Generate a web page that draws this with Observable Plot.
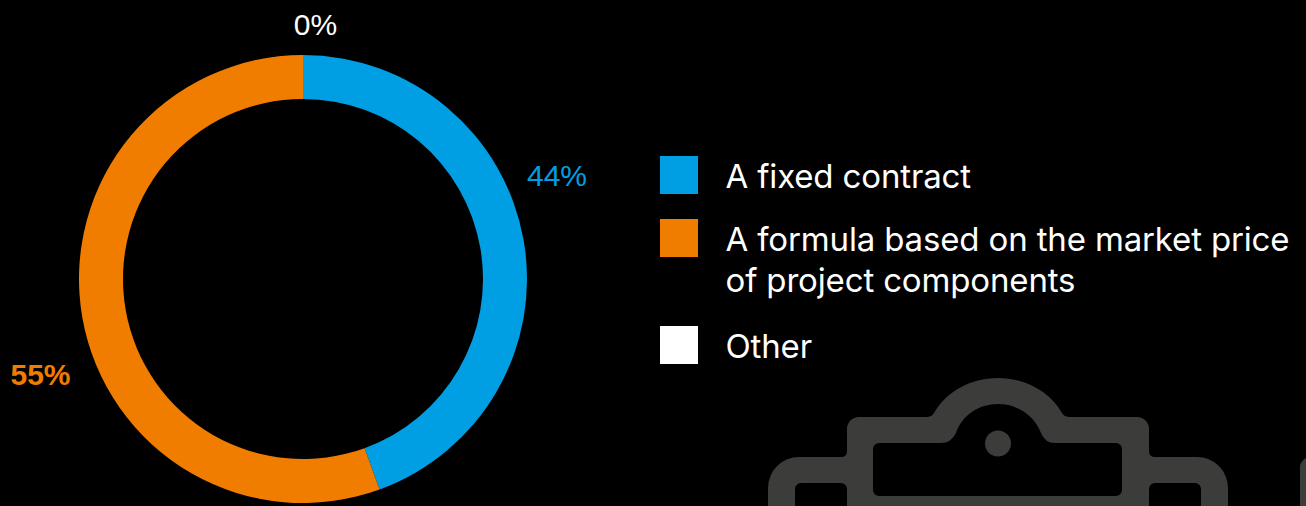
<!DOCTYPE html>
<html>
<head>
<meta charset="utf-8">
<script src="https://cdn.jsdelivr.net/npm/d3@7"></script>
<script src="https://cdn.jsdelivr.net/npm/@observablehq/plot@0.6"></script>
<style>
  html, body { margin: 0; padding: 0; background: #000; overflow: hidden; }
  #chart { position: relative; width: 1306px; height: 506px; }
  #chart svg { position: absolute; left: 0; top: 0; background: transparent; }
  .legend-row { position: absolute; left: 660px; display: flex; font: 33px/41px Inter, sans-serif; font-weight: 400; color: #fff; letter-spacing: -0.15px; }
  .legend-row i { display: block; width: 38px; height: 38px; margin-right: 27.5px; flex: none; }
  .legend-row span { display: block; white-space: pre; }
</style>
</head>
<body>
<div id="chart"></div>
<script>
// Survey answers, in the order they run clockwise from twelve o'clock.
const categories = ["A fixed contract", "A formula based on the market price\nof project components", "Other"];
const shares = [44, 55, 0];
const colors = ["#009fe3", "#f07d00", "#ffffff"];

// Ring geometry and label styling.
const center = [303, 279];
const outerRadius = 224;
const innerRadius = 180;
const labelStyle = [
  {anchor: [556.5, 176], weight: 400, fill: colors[0]},
  {anchor: [40, 375], weight: 700, fill: colors[1]},
  {anchor: [315, 25], weight: 400, fill: colors[2]}
];
const legendTops = [156, 219, 326];

const rows = categories.map((category, i) => ({category, share: shares[i]}));

// Stacked bars measured in degrees, bent into ring segments when rendered.
const ringSegments = Plot.barX(rows, Plot.stackX({
  x: "share",
  fill: "category",
  render(index, scales, values) {
    const arc = d3.arc().innerRadius(innerRadius).outerRadius(outerRadius);
    const toRadians = (deg) => (deg * Math.PI) / 180;
    const g = d3.create("svg:g").attr("transform", `translate(${center})`);
    for (const i of index) {
      g.append("path")
        .attr("fill", values.fill[i])
        .attr("d", arc({startAngle: toRadians(values.x1[i]), endAngle: toRadians(values.x2[i])}));
    }
    return g.node();
  }
}));

// Clipboard glyph sitting behind the lower right of the page.
const clipboard = () => {
  const g = d3.create("svg:g").attr("fill", "#3c3c3a");
  g.append("path").attr("fill-rule", "evenodd").attr("d", [
    "M847 429a12 12 0 0 1 12-12H926q6 0 8-4C946 392 970 378 998 378S1050 392 1062 413q2 4 8 4H1137a12 12 0 0 1 12 12V451q0 6 6 6H1197a31 31 0 0 1 31 31V530H768V488a31 31 0 0 1 31-31H841q6 0 6-6Z",
    "M879 443H941q10 0 15-10C962 415 979 404 998 404S1034 415 1041 433q4 10 14 10H1116a6 6 0 0 1 6 6V490a6 6 0 0 1-6 6H879a6 6 0 0 1-6-6V449a6 6 0 0 1 6-6Z",
    "M801 483H841a6 6 0 0 1 6 6V530H795V489a6 6 0 0 1 6-6Z",
    "M1155 483H1195a6 6 0 0 1 6 6V530H1149V489a6 6 0 0 1 6-6Z"
  ].join(""));
  g.append("circle").attr("cx", 998).attr("cy", 443.5).attr("r", 13);
  g.append("path").attr("d", "M1306 458H1316V530H1300V470a12 12 0 0 1 6-12Z");
  return g.node();
};

const percentLabels = rows.map((row, i) => Plot.text([`${row.share}%`], {
  frameAnchor: "top-left",
  dx: labelStyle[i].anchor[0],
  dy: labelStyle[i].anchor[1],
  text: (d) => d,
  fill: labelStyle[i].fill,
  fontWeight: labelStyle[i].weight,
  fontSize: 30,
  fontFamily: "Liberation Sans, sans-serif",
  textAnchor: "middle",
  lineAnchor: "middle"
}));

const plot = Plot.plot({
  width: 1306,
  height: 506,
  margin: 0,
  style: {background: "transparent", overflow: "visible"},
  x: {domain: [0, d3.sum(shares)], range: [0, 360], axis: null},
  color: {domain: categories, range: colors},
  marks: [clipboard, ringSegments, ...percentLabels]
});

const chart = document.getElementById("chart");
chart.append(plot);

categories.forEach((category, i) => {
  const row = document.createElement("div");
  row.className = "legend-row";
  row.style.top = `${legendTops[i]}px`;
  const swatch = document.createElement("i");
  swatch.style.background = colors[i];
  const label = document.createElement("span");
  label.textContent = category;
  row.append(swatch, label);
  chart.append(row);
});
</script>
</body>
</html>
